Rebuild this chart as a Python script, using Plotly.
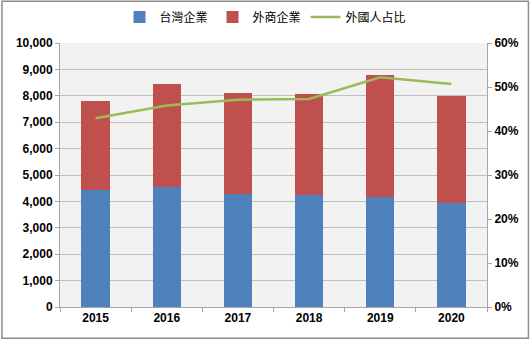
import plotly.graph_objects as go

years = ["2015", "2016", "2017", "2018", "2019", "2020"]
taiwan_firms = [4430, 4560, 4280, 4230, 4180, 3930]
foreign_firms = [3360, 3880, 3820, 3850, 4620, 4080]
foreign_share = [0.429, 0.458, 0.471, 0.473, 0.522, 0.507]

left_ticks = list(range(0, 10001, 1000))
left_labels = [f"{v:,}" for v in left_ticks]
right_ticks = [i / 10 for i in range(0, 7)]
right_labels = [f"{int(round(v * 100))}%" for v in right_ticks]

tick_font = dict(family="Liberation Sans", size=12, color="#000000", weight="bold")

fig = go.Figure()
fig.add_trace(go.Bar(x=years, y=taiwan_firms, name="台灣企業",
                     marker=dict(color="#4f81bd", line=dict(width=0)), width=0.4))
fig.add_trace(go.Bar(x=years, y=foreign_firms, name="外商企業",
                     marker=dict(color="#c0504d", line=dict(width=0)), width=0.4))
fig.add_trace(go.Scatter(x=years, y=foreign_share, name="外國人占比", yaxis="y2",
                         mode="lines", line=dict(color="#9bbb59", width=2.5)))

# chart frame around the whole figure
fig.add_shape(type="rect", xref="paper", yref="paper",
              x0=-0.136, x1=1.097, y0=-0.118, y1=1.158,
              line=dict(color="#8c8c8c", width=1.5), fillcolor="rgba(0,0,0,0)",
              layer="below")

fig.update_layout(
    width=531, height=340,
    margin=dict(l=60, r=44, t=43, b=33, autoexpand=False),
    barmode="stack",
    bargap=0.6,
    paper_bgcolor="white",
    plot_bgcolor="#f2f2f2",
    legend=dict(orientation="h", x=0.5, xref="container", xanchor="center",
                y=0.95, yref="container", yanchor="middle",
                traceorder="normal",
                font=dict(family="Noto Sans CJK TC", size=12, color="#000000"),
                itemwidth=30, bgcolor="rgba(0,0,0,0)"),
    xaxis=dict(type="category", tickfont=tick_font, showgrid=False,
               showline=True, linecolor="#a6a6a6", ticks="outside",
               tickson="boundaries", ticklen=4, tickcolor="#a6a6a6",
               mirror=False),
    yaxis=dict(range=[0, 10000], tickvals=left_ticks, ticktext=left_labels,
               tickfont=tick_font, showgrid=True, gridcolor="#bfbfbf", gridwidth=1,
               showline=True, linecolor="#a6a6a6", ticks="outside", ticklen=4,
               tickcolor="#a6a6a6", zeroline=False),
    yaxis2=dict(range=[0, 0.6], tickvals=right_ticks, ticktext=right_labels,
                overlaying="y", side="right", tickfont=tick_font, showgrid=False,
                showline=True, linecolor="#a6a6a6", ticks="outside", ticklen=4,
                tickcolor="#a6a6a6", zeroline=False),
)

fig.write_html("out.html")
